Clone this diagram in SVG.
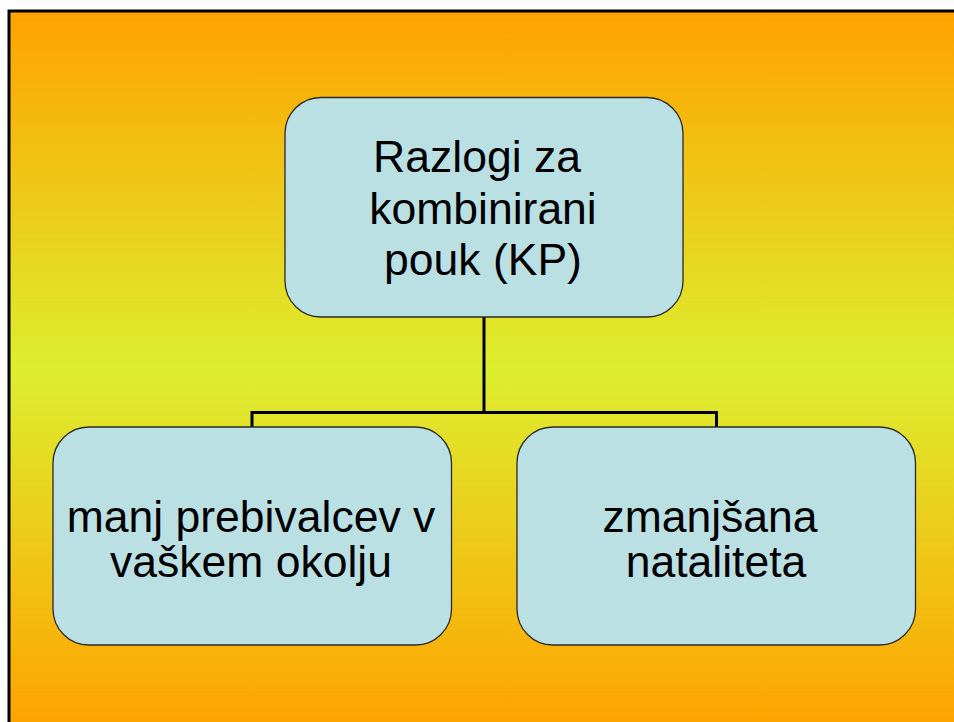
<svg xmlns="http://www.w3.org/2000/svg" width="954" height="722" viewBox="0 0 954 722">
  <defs>
    <linearGradient id="bg" x1="0" y1="10" x2="0" y2="730" gradientUnits="userSpaceOnUse">
      <stop offset="0" stop-color="#FFA200"/>
      <stop offset="0.5" stop-color="#DDEE30"/>
      <stop offset="1" stop-color="#FFA200"/>
    </linearGradient>
    <style>
      .node { fill: #BBE0E3; stroke: #2a2a2a; stroke-width: 1.3; }
      .lbl { font-family: "Liberation Sans", Arial, sans-serif; font-size: 44.5px; fill: #000; text-anchor: middle; }
      .conn { fill: none; stroke: #000; stroke-width: 3; }
    </style>
  </defs>
  <rect x="0" y="0" width="954" height="722" fill="#FFFFFF"/>
  <rect x="9" y="11" width="960" height="720" fill="url(#bg)" stroke="#000" stroke-width="3"/>

  <g id="connectors">
    <path class="conn" d="M484 317 V412.5 M252 427 V412.5 H716.5 V427"/>
  </g>

  <g id="node-root">
    <rect class="node" x="285" y="97.5" width="398" height="219.5" rx="36" ry="36"/>
    <text class="lbl" x="477" y="172">Razlogi za</text>
    <text class="lbl" x="483" y="223.5">kombinirani</text>
    <text class="lbl" x="483" y="275">pouk (KP)</text>
  </g>

  <g id="node-left">
    <rect class="node" x="53" y="427" width="398.5" height="218" rx="36" ry="36"/>
    <text class="lbl" x="251" y="532">manj prebivalcev v</text>
    <text class="lbl" x="251" y="577">vaškem okolju</text>
  </g>

  <g id="node-right">
    <rect class="node" x="517" y="427" width="398.5" height="218" rx="36" ry="36"/>
    <text class="lbl" x="710" y="532">zmanjšana</text>
    <text class="lbl" x="716" y="577">nataliteta</text>
  </g>
</svg>
